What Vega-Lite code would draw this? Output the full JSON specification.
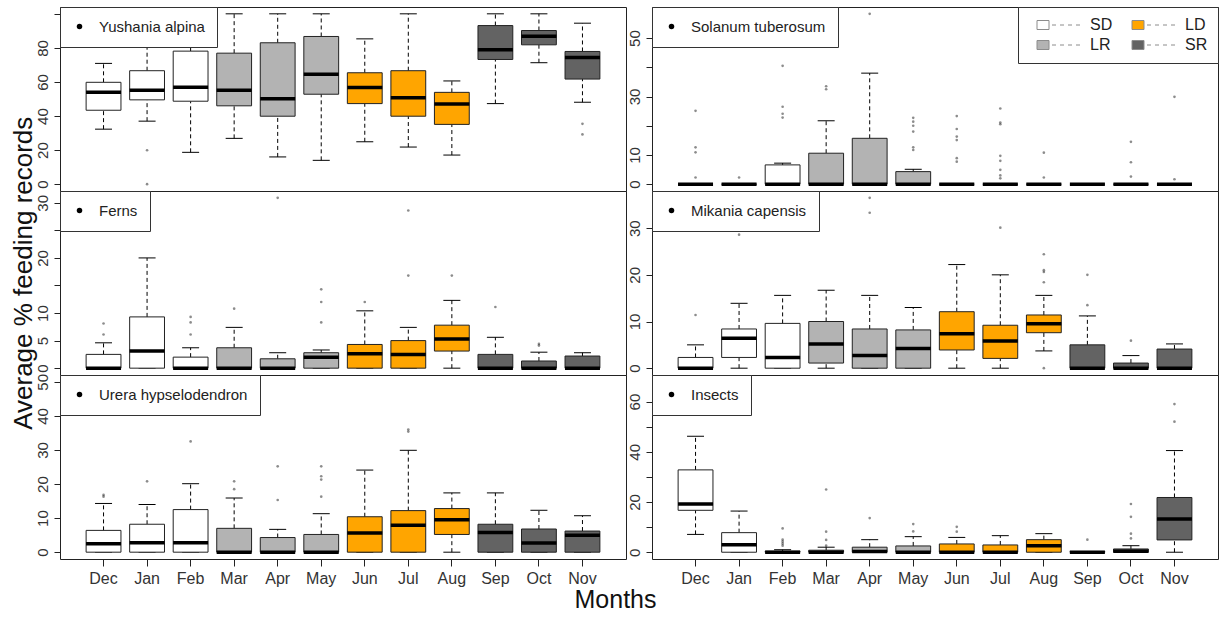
{
  "$schema": "https://vega.github.io/schema/vega-lite/v6.json",
  "background": "white",
  "padding": {"left": 10, "top": 6, "right": 0, "bottom": 0},
  "config": {
    "font": "Liberation Sans",
    "view": {"stroke": "#222", "strokeWidth": 1},
    "tick": {"opacity": 1},
    "axis": {"grid": false, "domain": false, "labelFont": "Liberation Sans", "labelColor": "#333", "tickColor": "#222", "titleFont": "Liberation Sans", "titleFontWeight": "normal", "titleColor": "#111", "labelOverlap": false, "labelFlush": false},
    "axisY": {"labelAngle": -90, "labelAlign": "center", "labelBaseline": "bottom", "labelFontSize": 15, "labelPadding": 4, "tickSize": 6, "labelOverlap": false, "tickCount": 20},
    "axisX": {"labelAngle": 0, "labelFontSize": 16, "labelPadding": 4, "tickSize": 7},
    "legend": {"labelFont": "Liberation Sans", "labelColor": "#222", "strokeColor": "#333", "fillColor": "white"}
  },
  "title": {"text": "Average % feeding records", "orient": "left", "anchor": "middle", "fontSize": 26, "fontWeight": "normal", "font": "Liberation Sans", "color": "#111", "offset": -2, "dx": 36},
  "datasets": {
    "stats": [
      {"species": "Yushania alpina", "month": "Dec", "season": "SD", "lo": 32.3, "q1": 43.4, "med": 53.9, "q3": 59.8, "hi": 70.9},
      {"species": "Yushania alpina", "month": "Jan", "season": "SD", "lo": 37.0, "q1": 49.5, "med": 55.1, "q3": 66.6, "hi": 90.0},
      {"species": "Yushania alpina", "month": "Feb", "season": "SD", "lo": 18.7, "q1": 48.7, "med": 56.9, "q3": 78.1, "hi": 100},
      {"species": "Yushania alpina", "month": "Mar", "season": "LR", "lo": 26.9, "q1": 46.0, "med": 55.1, "q3": 76.9, "hi": 100},
      {"species": "Yushania alpina", "month": "Apr", "season": "LR", "lo": 16.0, "q1": 39.9, "med": 50.2, "q3": 83.0, "hi": 100},
      {"species": "Yushania alpina", "month": "May", "season": "LR", "lo": 14.0, "q1": 52.8, "med": 64.5, "q3": 86.7, "hi": 100},
      {"species": "Yushania alpina", "month": "Jun", "season": "LD", "lo": 24.9, "q1": 47.3, "med": 56.7, "q3": 65.4, "hi": 85.3},
      {"species": "Yushania alpina", "month": "Jul", "season": "LD", "lo": 21.8, "q1": 39.9, "med": 50.8, "q3": 66.6, "hi": 100},
      {"species": "Yushania alpina", "month": "Aug", "season": "LD", "lo": 17.1, "q1": 35.1, "med": 47.1, "q3": 53.9, "hi": 60.6},
      {"species": "Yushania alpina", "month": "Sep", "season": "SR", "lo": 47.3, "q1": 73.2, "med": 78.9, "q3": 93.1, "hi": 100},
      {"species": "Yushania alpina", "month": "Oct", "season": "SR", "lo": 71.3, "q1": 81.8, "med": 86.9, "q3": 90.2, "hi": 100},
      {"species": "Yushania alpina", "month": "Nov", "season": "SR", "lo": 48.1, "q1": 61.7, "med": 74.4, "q3": 77.9, "hi": 94.5},

      {"species": "Solanum tuberosum", "month": "Dec", "season": "SD", "lo": 0, "q1": 0, "med": 0, "q3": 0, "hi": 0},
      {"species": "Solanum tuberosum", "month": "Jan", "season": "SD", "lo": 0, "q1": 0, "med": 0, "q3": 0, "hi": 0},
      {"species": "Solanum tuberosum", "month": "Feb", "season": "SD", "lo": 0, "q1": 0, "med": 0, "q3": 6.6, "hi": 7.2},
      {"species": "Solanum tuberosum", "month": "Mar", "season": "LR", "lo": 0, "q1": 0, "med": 0, "q3": 10.6, "hi": 21.7},
      {"species": "Solanum tuberosum", "month": "Apr", "season": "LR", "lo": 0, "q1": 0, "med": 0, "q3": 15.7, "hi": 38.0},
      {"species": "Solanum tuberosum", "month": "May", "season": "LR", "lo": 0, "q1": 0, "med": 0, "q3": 4.3, "hi": 5.1},
      {"species": "Solanum tuberosum", "month": "Jun", "season": "LD", "lo": 0, "q1": 0, "med": 0, "q3": 0, "hi": 0},
      {"species": "Solanum tuberosum", "month": "Jul", "season": "LD", "lo": 0, "q1": 0, "med": 0, "q3": 0, "hi": 0},
      {"species": "Solanum tuberosum", "month": "Aug", "season": "LD", "lo": 0, "q1": 0, "med": 0, "q3": 0, "hi": 0},
      {"species": "Solanum tuberosum", "month": "Sep", "season": "SR", "lo": 0, "q1": 0, "med": 0, "q3": 0, "hi": 0},
      {"species": "Solanum tuberosum", "month": "Oct", "season": "SR", "lo": 0, "q1": 0, "med": 0, "q3": 0, "hi": 0},
      {"species": "Solanum tuberosum", "month": "Nov", "season": "SR", "lo": 0, "q1": 0, "med": 0, "q3": 0, "hi": 0},

      {"species": "Ferns", "month": "Dec", "season": "SD", "lo": 0, "q1": 0, "med": 0, "q3": 2.5, "hi": 4.6},
      {"species": "Ferns", "month": "Jan", "season": "SD", "lo": 0, "q1": 0, "med": 3.1, "q3": 9.3, "hi": 20.0},
      {"species": "Ferns", "month": "Feb", "season": "SD", "lo": 0, "q1": 0, "med": 0, "q3": 2.0, "hi": 3.7},
      {"species": "Ferns", "month": "Mar", "season": "LR", "lo": 0, "q1": 0, "med": 0, "q3": 3.7, "hi": 7.4},
      {"species": "Ferns", "month": "Apr", "season": "LR", "lo": 0, "q1": 0, "med": 0, "q3": 1.7, "hi": 2.8},
      {"species": "Ferns", "month": "May", "season": "LR", "lo": 0, "q1": 0, "med": 2.0, "q3": 2.8, "hi": 3.3},
      {"species": "Ferns", "month": "Jun", "season": "LD", "lo": 0, "q1": 0, "med": 2.6, "q3": 4.3, "hi": 10.4},
      {"species": "Ferns", "month": "Jul", "season": "LD", "lo": 0, "q1": 0, "med": 2.5, "q3": 5.0, "hi": 7.4},
      {"species": "Ferns", "month": "Aug", "season": "LD", "lo": 0, "q1": 3.1, "med": 5.3, "q3": 7.8, "hi": 12.3},
      {"species": "Ferns", "month": "Sep", "season": "SR", "lo": 0, "q1": 0, "med": 0, "q3": 2.5, "hi": 5.6},
      {"species": "Ferns", "month": "Oct", "season": "SR", "lo": 0, "q1": 0, "med": 0, "q3": 1.3, "hi": 2.9},
      {"species": "Ferns", "month": "Nov", "season": "SR", "lo": 0, "q1": 0, "med": 0, "q3": 2.2, "hi": 2.8},

      {"species": "Mikania capensis", "month": "Dec", "season": "SD", "lo": 0, "q1": 0, "med": 0, "q3": 2.3, "hi": 5.0},
      {"species": "Mikania capensis", "month": "Jan", "season": "SD", "lo": 0, "q1": 2.3, "med": 6.4, "q3": 8.4, "hi": 13.9},
      {"species": "Mikania capensis", "month": "Feb", "season": "SD", "lo": 0, "q1": 0, "med": 2.3, "q3": 9.6, "hi": 15.6},
      {"species": "Mikania capensis", "month": "Mar", "season": "LR", "lo": 0, "q1": 1.1, "med": 5.2, "q3": 10.0, "hi": 16.7},
      {"species": "Mikania capensis", "month": "Apr", "season": "LR", "lo": 0, "q1": 0, "med": 2.7, "q3": 8.4, "hi": 15.6},
      {"species": "Mikania capensis", "month": "May", "season": "LR", "lo": 0, "q1": 0, "med": 4.2, "q3": 8.2, "hi": 13.0},
      {"species": "Mikania capensis", "month": "Jun", "season": "LD", "lo": 0, "q1": 3.9, "med": 7.4, "q3": 12.1, "hi": 22.2},
      {"species": "Mikania capensis", "month": "Jul", "season": "LD", "lo": 0, "q1": 2.1, "med": 5.8, "q3": 9.2, "hi": 20.0},
      {"species": "Mikania capensis", "month": "Aug", "season": "LD", "lo": 3.7, "q1": 7.6, "med": 9.5, "q3": 11.4, "hi": 15.6},
      {"species": "Mikania capensis", "month": "Sep", "season": "SR", "lo": 0, "q1": 0, "med": 0, "q3": 5.0, "hi": 11.2},
      {"species": "Mikania capensis", "month": "Oct", "season": "SR", "lo": 0, "q1": 0, "med": 0, "q3": 1.1, "hi": 2.7},
      {"species": "Mikania capensis", "month": "Nov", "season": "SR", "lo": 0, "q1": 0, "med": 0, "q3": 4.1, "hi": 5.2},

      {"species": "Urera hypselodendron", "month": "Dec", "season": "SD", "lo": 0, "q1": 0, "med": 2.5, "q3": 6.4, "hi": 14.3},
      {"species": "Urera hypselodendron", "month": "Jan", "season": "SD", "lo": 0, "q1": 0, "med": 2.8, "q3": 8.2, "hi": 14.0},
      {"species": "Urera hypselodendron", "month": "Feb", "season": "SD", "lo": 0, "q1": 0, "med": 2.8, "q3": 12.5, "hi": 20.1},
      {"species": "Urera hypselodendron", "month": "Mar", "season": "LR", "lo": 0, "q1": 0, "med": 0, "q3": 7.0, "hi": 15.9},
      {"species": "Urera hypselodendron", "month": "Apr", "season": "LR", "lo": 0, "q1": 0, "med": 0, "q3": 4.3, "hi": 6.7},
      {"species": "Urera hypselodendron", "month": "May", "season": "LR", "lo": 0, "q1": 0, "med": 0, "q3": 5.2, "hi": 11.3},
      {"species": "Urera hypselodendron", "month": "Jun", "season": "LD", "lo": 0, "q1": 0, "med": 5.6, "q3": 10.4, "hi": 24.1},
      {"species": "Urera hypselodendron", "month": "Jul", "season": "LD", "lo": 0, "q1": 0, "med": 7.9, "q3": 12.2, "hi": 29.9},
      {"species": "Urera hypselodendron", "month": "Aug", "season": "LD", "lo": 0, "q1": 5.2, "med": 9.5, "q3": 12.8, "hi": 17.4},
      {"species": "Urera hypselodendron", "month": "Sep", "season": "SR", "lo": 0, "q1": 0, "med": 5.8, "q3": 8.2, "hi": 17.4},
      {"species": "Urera hypselodendron", "month": "Oct", "season": "SR", "lo": 0, "q1": 0, "med": 2.7, "q3": 6.8, "hi": 12.3},
      {"species": "Urera hypselodendron", "month": "Nov", "season": "SR", "lo": 0, "q1": 0, "med": 5.0, "q3": 6.2, "hi": 10.7},

      {"species": "Insects", "month": "Dec", "season": "SD", "lo": 7.1, "q1": 16.7, "med": 19.2, "q3": 32.8, "hi": 46.2},
      {"species": "Insects", "month": "Jan", "season": "SD", "lo": 0, "q1": 0, "med": 3.0, "q3": 7.8, "hi": 16.4},
      {"species": "Insects", "month": "Feb", "season": "SD", "lo": 0, "q1": 0, "med": 0, "q3": 0.4, "hi": 1.0},
      {"species": "Insects", "month": "Mar", "season": "LR", "lo": 0, "q1": 0, "med": 0, "q3": 0.8, "hi": 2.0},
      {"species": "Insects", "month": "Apr", "season": "LR", "lo": 0, "q1": 0, "med": 0.3, "q3": 2.0, "hi": 5.0},
      {"species": "Insects", "month": "May", "season": "LR", "lo": 0, "q1": 0, "med": 0, "q3": 2.5, "hi": 6.2},
      {"species": "Insects", "month": "Jun", "season": "LD", "lo": 0, "q1": 0, "med": 0, "q3": 3.3, "hi": 5.9},
      {"species": "Insects", "month": "Jul", "season": "LD", "lo": 0, "q1": 0, "med": 0, "q3": 2.9, "hi": 6.6},
      {"species": "Insects", "month": "Aug", "season": "LD", "lo": 0, "q1": 0, "med": 2.6, "q3": 5.0, "hi": 7.4},
      {"species": "Insects", "month": "Sep", "season": "SR", "lo": 0, "q1": 0, "med": 0, "q3": 0.3, "hi": 0.3},
      {"species": "Insects", "month": "Oct", "season": "SR", "lo": 0, "q1": 0, "med": 0.4, "q3": 1.3, "hi": 2.6},
      {"species": "Insects", "month": "Nov", "season": "SR", "lo": 0, "q1": 4.9, "med": 13.2, "q3": 21.8, "hi": 40.5}
    ],
    "outliers": [
      {"species": "Yushania alpina", "month": "Jan", "value": 19.9},
      {"species": "Yushania alpina", "month": "Jan", "value": 0},
      {"species": "Yushania alpina", "month": "Nov", "value": 35.4},
      {"species": "Yushania alpina", "month": "Nov", "value": 29.2},

      {"species": "Solanum tuberosum", "month": "Dec", "value": 25.1},
      {"species": "Solanum tuberosum", "month": "Dec", "value": 12.6},
      {"species": "Solanum tuberosum", "month": "Dec", "value": 10.9},
      {"species": "Solanum tuberosum", "month": "Dec", "value": 2.3},
      {"species": "Solanum tuberosum", "month": "Jan", "value": 2.3},
      {"species": "Solanum tuberosum", "month": "Feb", "value": 40.5},
      {"species": "Solanum tuberosum", "month": "Feb", "value": 26.5},
      {"species": "Solanum tuberosum", "month": "Feb", "value": 24.1},
      {"species": "Solanum tuberosum", "month": "Feb", "value": 22.8},
      {"species": "Solanum tuberosum", "month": "Mar", "value": 33.5},
      {"species": "Solanum tuberosum", "month": "Mar", "value": 32.5},
      {"species": "Solanum tuberosum", "month": "Apr", "value": 58.3},
      {"species": "Solanum tuberosum", "month": "May", "value": 22.7},
      {"species": "Solanum tuberosum", "month": "May", "value": 21.4},
      {"species": "Solanum tuberosum", "month": "May", "value": 20.0},
      {"species": "Solanum tuberosum", "month": "May", "value": 18.0},
      {"species": "Solanum tuberosum", "month": "May", "value": 12.6},
      {"species": "Solanum tuberosum", "month": "May", "value": 11.7},
      {"species": "Solanum tuberosum", "month": "Jun", "value": 23.3},
      {"species": "Solanum tuberosum", "month": "Jun", "value": 18.9},
      {"species": "Solanum tuberosum", "month": "Jun", "value": 16.3},
      {"species": "Solanum tuberosum", "month": "Jun", "value": 15.1},
      {"species": "Solanum tuberosum", "month": "Jun", "value": 8.9},
      {"species": "Solanum tuberosum", "month": "Jun", "value": 7.7},
      {"species": "Solanum tuberosum", "month": "Jul", "value": 25.9},
      {"species": "Solanum tuberosum", "month": "Jul", "value": 21.1},
      {"species": "Solanum tuberosum", "month": "Jul", "value": 20.5},
      {"species": "Solanum tuberosum", "month": "Jul", "value": 9.7},
      {"species": "Solanum tuberosum", "month": "Jul", "value": 8.0},
      {"species": "Solanum tuberosum", "month": "Jul", "value": 4.9},
      {"species": "Solanum tuberosum", "month": "Jul", "value": 3.0},
      {"species": "Solanum tuberosum", "month": "Jul", "value": 2.0},
      {"species": "Solanum tuberosum", "month": "Aug", "value": 10.8},
      {"species": "Solanum tuberosum", "month": "Aug", "value": 2.3},
      {"species": "Solanum tuberosum", "month": "Oct", "value": 14.5},
      {"species": "Solanum tuberosum", "month": "Oct", "value": 7.5},
      {"species": "Solanum tuberosum", "month": "Oct", "value": 2.6},
      {"species": "Solanum tuberosum", "month": "Nov", "value": 29.9},
      {"species": "Solanum tuberosum", "month": "Nov", "value": 1.7},

      {"species": "Ferns", "month": "Dec", "value": 6.1},
      {"species": "Ferns", "month": "Dec", "value": 8.1},
      {"species": "Ferns", "month": "Feb", "value": 6.1},
      {"species": "Ferns", "month": "Feb", "value": 8.3},
      {"species": "Ferns", "month": "Feb", "value": 9.3},
      {"species": "Ferns", "month": "Mar", "value": 10.8},
      {"species": "Ferns", "month": "Apr", "value": 30.9},
      {"species": "Ferns", "month": "May", "value": 8.3},
      {"species": "Ferns", "month": "May", "value": 12.0},
      {"species": "Ferns", "month": "May", "value": 14.3},
      {"species": "Ferns", "month": "Jun", "value": 12.0},
      {"species": "Ferns", "month": "Jul", "value": 16.8},
      {"species": "Ferns", "month": "Jul", "value": 28.6},
      {"species": "Ferns", "month": "Aug", "value": 16.8},
      {"species": "Ferns", "month": "Sep", "value": 11.1},
      {"species": "Ferns", "month": "Oct", "value": 4.4},
      {"species": "Ferns", "month": "Oct", "value": 4.1},

      {"species": "Mikania capensis", "month": "Dec", "value": 11.4},
      {"species": "Mikania capensis", "month": "Jan", "value": 28.6},
      {"species": "Mikania capensis", "month": "Apr", "value": 36.5},
      {"species": "Mikania capensis", "month": "Apr", "value": 33.3},
      {"species": "Mikania capensis", "month": "Jul", "value": 30.1},
      {"species": "Mikania capensis", "month": "Aug", "value": 0},
      {"species": "Mikania capensis", "month": "Aug", "value": 18.4},
      {"species": "Mikania capensis", "month": "Aug", "value": 20.6},
      {"species": "Mikania capensis", "month": "Aug", "value": 21.0},
      {"species": "Mikania capensis", "month": "Aug", "value": 24.4},
      {"species": "Mikania capensis", "month": "Sep", "value": 13.5},
      {"species": "Mikania capensis", "month": "Sep", "value": 20.0},
      {"species": "Mikania capensis", "month": "Oct", "value": 5.9},

      {"species": "Urera hypselodendron", "month": "Dec", "value": 16.3},
      {"species": "Urera hypselodendron", "month": "Dec", "value": 16.8},
      {"species": "Urera hypselodendron", "month": "Jan", "value": 20.8},
      {"species": "Urera hypselodendron", "month": "Feb", "value": 32.5},
      {"species": "Urera hypselodendron", "month": "Mar", "value": 18.5},
      {"species": "Urera hypselodendron", "month": "Mar", "value": 20.8},
      {"species": "Urera hypselodendron", "month": "Apr", "value": 15.3},
      {"species": "Urera hypselodendron", "month": "Apr", "value": 25.2},
      {"species": "Urera hypselodendron", "month": "May", "value": 16.3},
      {"species": "Urera hypselodendron", "month": "May", "value": 21.3},
      {"species": "Urera hypselodendron", "month": "May", "value": 22.3},
      {"species": "Urera hypselodendron", "month": "May", "value": 25.2},
      {"species": "Urera hypselodendron", "month": "Jul", "value": 35.4},
      {"species": "Urera hypselodendron", "month": "Jul", "value": 36.0},

      {"species": "Insects", "month": "Feb", "value": 9.5},
      {"species": "Insects", "month": "Feb", "value": 5.0},
      {"species": "Insects", "month": "Feb", "value": 4.2},
      {"species": "Insects", "month": "Feb", "value": 3.4},
      {"species": "Insects", "month": "Feb", "value": 2.6},
      {"species": "Insects", "month": "Mar", "value": 25.0},
      {"species": "Insects", "month": "Mar", "value": 8.2},
      {"species": "Insects", "month": "Mar", "value": 4.9},
      {"species": "Insects", "month": "Mar", "value": 2.6},
      {"species": "Insects", "month": "Apr", "value": 13.6},
      {"species": "Insects", "month": "May", "value": 11.2},
      {"species": "Insects", "month": "May", "value": 8.3},
      {"species": "Insects", "month": "Jun", "value": 10.1},
      {"species": "Insects", "month": "Jun", "value": 8.2},
      {"species": "Insects", "month": "Sep", "value": 5.0},
      {"species": "Insects", "month": "Oct", "value": 5.5},
      {"species": "Insects", "month": "Oct", "value": 7.4},
      {"species": "Insects", "month": "Oct", "value": 14.1},
      {"species": "Insects", "month": "Oct", "value": 19.2},
      {"species": "Insects", "month": "Nov", "value": 52.0},
      {"species": "Insects", "month": "Nov", "value": 59.0}
    ]
  },
  "columns": 2,
  "spacing": {"row": 0, "column": 26},
  "bounds": "flush",
  "resolve": {"scale": {"fill": "independent", "shape": "independent"}},
  "concat": [
    {
      "width": 566, "height": 184,
      "encoding": {"x": {"field": "month", "type": "ordinal", "scale": {"type": "band", "domain": ["Dec","Jan","Feb","Mar","Apr","May","Jun","Jul","Aug","Sep","Oct","Nov"], "paddingInner": 0.2, "paddingOuter": 0.6}, "axis": null}},
      "layer": [
        {
          "data": {"name": "stats"},
          "transform": [{"filter": "datum.species === 'Yushania alpina'"}],
          "layer": [
            {"mark": {"type": "rule", "color": "black", "strokeDash": [4, 3]}, "encoding": {"y": {"field": "lo", "type": "quantitative", "title": null, "scale": {"domain": [-4, 104], "nice": false, "zero": false}, "axis": {"title": null, "labelOverlap": false, "tickCount": 20, "values": [0, 20, 40, 60, 80, 100], "labelExpr": "datum.value == 100 ? '' : datum.label"}}, "y2": {"field": "q1"}}},
            {"mark": {"type": "rule", "color": "black", "strokeDash": [4, 3]}, "encoding": {"y": {"field": "q3", "type": "quantitative", "title": null}, "y2": {"field": "hi"}}},
            {"mark": {"type": "tick", "color": "black", "size": 17, "thickness": 1, "opacity": 1}, "encoding": {"y": {"field": "lo", "type": "quantitative", "title": null}}},
            {"mark": {"type": "tick", "color": "black", "size": 17, "thickness": 1, "opacity": 1}, "encoding": {"y": {"field": "hi", "type": "quantitative", "title": null}}},
            {"mark": {"type": "bar"}, "encoding": {"y": {"field": "q1", "type": "quantitative", "title": null}, "y2": {"field": "q3"}, "fill": {"field": "season", "type": "nominal", "scale": {"domain": ["SD","LR","LD","SR"], "range": ["#ffffff","#b3b3b3","#ffa500","#636363"]}, "legend": null}}},
            {"mark": {"type": "bar", "filled": false, "color": "#222", "strokeWidth": 1}, "encoding": {"y": {"field": "q1", "type": "quantitative", "title": null}, "y2": {"field": "q3"}}},
            {"mark": {"type": "tick", "color": "black", "size": 35, "thickness": 3.5, "opacity": 1}, "encoding": {"y": {"field": "med", "type": "quantitative", "title": null}}}
          ]
        },
        {
          "data": {"name": "outliers"},
          "transform": [{"filter": "datum.species === 'Yushania alpina'"}],
          "mark": {"type": "point", "filled": true, "color": "black", "opacity": 0.45, "size": 7},
          "encoding": {"y": {"field": "value", "type": "quantitative", "title": null},
            "shape": {"field": "species", "type": "nominal", "scale": {"range": ["circle"]},
              "legend": {"title": null, "orient": "top-left", "offset": 0, "padding": 12, "labelFontSize": 15, "labelOffset": 12, "symbolSize": 30, "symbolType": "circle", "symbolOpacity": 1}}}
        }
      ]
    },
    {
      "width": 566, "height": 184,
      "encoding": {"x": {"field": "month", "type": "ordinal", "scale": {"type": "band", "domain": ["Dec","Jan","Feb","Mar","Apr","May","Jun","Jul","Aug","Sep","Oct","Nov"], "paddingInner": 0.2, "paddingOuter": 0.6}, "axis": null}},
      "layer": [
        {
          "data": {"name": "stats"},
          "transform": [{"filter": "datum.species === 'Solanum tuberosum'"}],
          "layer": [
            {"mark": {"type": "rule", "color": "black", "strokeDash": [4, 3]}, "encoding": {"y": {"field": "lo", "type": "quantitative", "title": null, "scale": {"domain": [-2.33, 60.63], "nice": false, "zero": false}, "axis": {"title": null, "labelOverlap": false, "tickCount": 20, "values": [0, 10, 20, 30, 40, 50], "labelExpr": "datum.value == 20 || datum.value == 40 ? '' : datum.label"}}, "y2": {"field": "q1"}}},
            {"mark": {"type": "rule", "color": "black", "strokeDash": [4, 3]}, "encoding": {"y": {"field": "q3", "type": "quantitative", "title": null}, "y2": {"field": "hi"}}},
            {"mark": {"type": "tick", "color": "black", "size": 17, "thickness": 1, "opacity": 1}, "encoding": {"y": {"field": "lo", "type": "quantitative", "title": null}}},
            {"mark": {"type": "tick", "color": "black", "size": 17, "thickness": 1, "opacity": 1}, "encoding": {"y": {"field": "hi", "type": "quantitative", "title": null}}},
            {"mark": {"type": "bar"}, "encoding": {"y": {"field": "q1", "type": "quantitative", "title": null}, "y2": {"field": "q3"},
              "fill": {"field": "season", "type": "nominal", "scale": {"domain": ["SD","LR","LD","SR"], "range": ["#ffffff","#b3b3b3","#ffa500","#636363"]},
                "legend": {"title": null, "orient": "top-right", "offset": 0, "columns": 2, "padding": 10, "columnPadding": 10, "rowPadding": 4, "labelFontSize": 16, "labelOffset": 46, "symbolSize": 100,
                  "symbolType": "M0.2,-0.9H2.6V0.9H0.2Z M3.2,0H4 M4.8,0H5.6 M6.4,0H7.2 M8,0H8.8", "symbolStrokeColor": "#8c8c8c", "symbolStrokeWidth": 1}}}},
            {"mark": {"type": "bar", "filled": false, "color": "#222", "strokeWidth": 1}, "encoding": {"y": {"field": "q1", "type": "quantitative", "title": null}, "y2": {"field": "q3"}}},
            {"mark": {"type": "tick", "color": "black", "size": 35, "thickness": 3.5, "opacity": 1}, "encoding": {"y": {"field": "med", "type": "quantitative", "title": null}}}
          ]
        },
        {
          "data": {"name": "outliers"},
          "transform": [{"filter": "datum.species === 'Solanum tuberosum'"}],
          "mark": {"type": "point", "filled": true, "color": "black", "opacity": 0.45, "size": 7},
          "encoding": {"y": {"field": "value", "type": "quantitative", "title": null},
            "shape": {"field": "species", "type": "nominal", "scale": {"range": ["circle"]},
              "legend": {"title": null, "orient": "top-left", "offset": 0, "padding": 12, "labelFontSize": 15, "labelOffset": 12, "symbolSize": 30, "symbolType": "circle", "symbolOpacity": 1}}}
        }
      ]
    },
    {
      "width": 566, "height": 184,
      "encoding": {"x": {"field": "month", "type": "ordinal", "scale": {"type": "band", "domain": ["Dec","Jan","Feb","Mar","Apr","May","Jun","Jul","Aug","Sep","Oct","Nov"], "paddingInner": 0.2, "paddingOuter": 0.6}, "axis": null}},
      "layer": [
        {
          "data": {"name": "stats"},
          "transform": [{"filter": "datum.species === 'Ferns'"}],
          "layer": [
            {"mark": {"type": "rule", "color": "black", "strokeDash": [4, 3]}, "encoding": {"y": {"field": "lo", "type": "quantitative", "title": null, "scale": {"domain": [-1.24, 32.14], "nice": false, "zero": false}, "axis": {"title": null, "labelOverlap": false, "tickCount": 20, "values": [0, 5, 10, 15, 20, 25, 30], "labelExpr": "datum.value == 15 || datum.value == 25 ? '' : datum.label"}}, "y2": {"field": "q1"}}},
            {"mark": {"type": "rule", "color": "black", "strokeDash": [4, 3]}, "encoding": {"y": {"field": "q3", "type": "quantitative", "title": null}, "y2": {"field": "hi"}}},
            {"mark": {"type": "tick", "color": "black", "size": 17, "thickness": 1, "opacity": 1}, "encoding": {"y": {"field": "lo", "type": "quantitative", "title": null}}},
            {"mark": {"type": "tick", "color": "black", "size": 17, "thickness": 1, "opacity": 1}, "encoding": {"y": {"field": "hi", "type": "quantitative", "title": null}}},
            {"mark": {"type": "bar"}, "encoding": {"y": {"field": "q1", "type": "quantitative", "title": null}, "y2": {"field": "q3"}, "fill": {"field": "season", "type": "nominal", "scale": {"domain": ["SD","LR","LD","SR"], "range": ["#ffffff","#b3b3b3","#ffa500","#636363"]}, "legend": null}}},
            {"mark": {"type": "bar", "filled": false, "color": "#222", "strokeWidth": 1}, "encoding": {"y": {"field": "q1", "type": "quantitative", "title": null}, "y2": {"field": "q3"}}},
            {"mark": {"type": "tick", "color": "black", "size": 35, "thickness": 3.5, "opacity": 1}, "encoding": {"y": {"field": "med", "type": "quantitative", "title": null}}}
          ]
        },
        {
          "data": {"name": "outliers"},
          "transform": [{"filter": "datum.species === 'Ferns'"}],
          "mark": {"type": "point", "filled": true, "color": "black", "opacity": 0.45, "size": 7},
          "encoding": {"y": {"field": "value", "type": "quantitative", "title": null},
            "shape": {"field": "species", "type": "nominal", "scale": {"range": ["circle"]},
              "legend": {"title": null, "orient": "top-left", "offset": 0, "padding": 12, "labelFontSize": 15, "labelOffset": 12, "symbolSize": 30, "symbolType": "circle", "symbolOpacity": 1}}}
        }
      ]
    },
    {
      "width": 566, "height": 184,
      "encoding": {"x": {"field": "month", "type": "ordinal", "scale": {"type": "band", "domain": ["Dec","Jan","Feb","Mar","Apr","May","Jun","Jul","Aug","Sep","Oct","Nov"], "paddingInner": 0.2, "paddingOuter": 0.6}, "axis": null}},
      "layer": [
        {
          "data": {"name": "stats"},
          "transform": [{"filter": "datum.species === 'Mikania capensis'"}],
          "layer": [
            {"mark": {"type": "rule", "color": "black", "strokeDash": [4, 3]}, "encoding": {"y": {"field": "lo", "type": "quantitative", "title": null, "scale": {"domain": [-1.46, 37.96], "nice": false, "zero": false}, "axis": {"title": null, "labelOverlap": false, "tickCount": 20, "values": [0, 10, 20, 30]}}, "y2": {"field": "q1"}}},
            {"mark": {"type": "rule", "color": "black", "strokeDash": [4, 3]}, "encoding": {"y": {"field": "q3", "type": "quantitative", "title": null}, "y2": {"field": "hi"}}},
            {"mark": {"type": "tick", "color": "black", "size": 17, "thickness": 1, "opacity": 1}, "encoding": {"y": {"field": "lo", "type": "quantitative", "title": null}}},
            {"mark": {"type": "tick", "color": "black", "size": 17, "thickness": 1, "opacity": 1}, "encoding": {"y": {"field": "hi", "type": "quantitative", "title": null}}},
            {"mark": {"type": "bar"}, "encoding": {"y": {"field": "q1", "type": "quantitative", "title": null}, "y2": {"field": "q3"}, "fill": {"field": "season", "type": "nominal", "scale": {"domain": ["SD","LR","LD","SR"], "range": ["#ffffff","#b3b3b3","#ffa500","#636363"]}, "legend": null}}},
            {"mark": {"type": "bar", "filled": false, "color": "#222", "strokeWidth": 1}, "encoding": {"y": {"field": "q1", "type": "quantitative", "title": null}, "y2": {"field": "q3"}}},
            {"mark": {"type": "tick", "color": "black", "size": 35, "thickness": 3.5, "opacity": 1}, "encoding": {"y": {"field": "med", "type": "quantitative", "title": null}}}
          ]
        },
        {
          "data": {"name": "outliers"},
          "transform": [{"filter": "datum.species === 'Mikania capensis'"}],
          "mark": {"type": "point", "filled": true, "color": "black", "opacity": 0.45, "size": 7},
          "encoding": {"y": {"field": "value", "type": "quantitative", "title": null},
            "shape": {"field": "species", "type": "nominal", "scale": {"range": ["circle"]},
              "legend": {"title": null, "orient": "top-left", "offset": 0, "padding": 12, "labelFontSize": 15, "labelOffset": 12, "symbolSize": 30, "symbolType": "circle", "symbolOpacity": 1}}}
        }
      ]
    },
    {
      "width": 566, "height": 184,
      "encoding": {"x": {"field": "month", "type": "ordinal", "scale": {"type": "band", "domain": ["Dec","Jan","Feb","Mar","Apr","May","Jun","Jul","Aug","Sep","Oct","Nov"], "paddingInner": 0.2, "paddingOuter": 0.6}, "axis": {"title": "Months", "titleFontSize": 25, "titleX": 555, "titlePadding": 1}}},
      "layer": [
        {
          "data": {"name": "stats"},
          "transform": [{"filter": "datum.species === 'Urera hypselodendron'"}],
          "layer": [
            {"mark": {"type": "rule", "color": "black", "strokeDash": [4, 3]}, "encoding": {"y": {"field": "lo", "type": "quantitative", "title": null, "scale": {"domain": [-2, 52], "nice": false, "zero": false}, "axis": {"title": null, "labelOverlap": false, "tickCount": 20, "values": [0, 10, 20, 30, 40, 50]}}, "y2": {"field": "q1"}}},
            {"mark": {"type": "rule", "color": "black", "strokeDash": [4, 3]}, "encoding": {"y": {"field": "q3", "type": "quantitative", "title": null}, "y2": {"field": "hi"}}},
            {"mark": {"type": "tick", "color": "black", "size": 17, "thickness": 1, "opacity": 1}, "encoding": {"y": {"field": "lo", "type": "quantitative", "title": null}}},
            {"mark": {"type": "tick", "color": "black", "size": 17, "thickness": 1, "opacity": 1}, "encoding": {"y": {"field": "hi", "type": "quantitative", "title": null}}},
            {"mark": {"type": "bar"}, "encoding": {"y": {"field": "q1", "type": "quantitative", "title": null}, "y2": {"field": "q3"}, "fill": {"field": "season", "type": "nominal", "scale": {"domain": ["SD","LR","LD","SR"], "range": ["#ffffff","#b3b3b3","#ffa500","#636363"]}, "legend": null}}},
            {"mark": {"type": "bar", "filled": false, "color": "#222", "strokeWidth": 1}, "encoding": {"y": {"field": "q1", "type": "quantitative", "title": null}, "y2": {"field": "q3"}}},
            {"mark": {"type": "tick", "color": "black", "size": 35, "thickness": 3.5, "opacity": 1}, "encoding": {"y": {"field": "med", "type": "quantitative", "title": null}}}
          ]
        },
        {
          "data": {"name": "outliers"},
          "transform": [{"filter": "datum.species === 'Urera hypselodendron'"}],
          "mark": {"type": "point", "filled": true, "color": "black", "opacity": 0.45, "size": 7},
          "encoding": {"y": {"field": "value", "type": "quantitative", "title": null},
            "shape": {"field": "species", "type": "nominal", "scale": {"range": ["circle"]},
              "legend": {"title": null, "orient": "top-left", "offset": 0, "padding": 12, "labelFontSize": 15, "labelOffset": 12, "symbolSize": 30, "symbolType": "circle", "symbolOpacity": 1}}}
        }
      ]
    },
    {
      "width": 566, "height": 184,
      "encoding": {"x": {"field": "month", "type": "ordinal", "scale": {"type": "band", "domain": ["Dec","Jan","Feb","Mar","Apr","May","Jun","Jul","Aug","Sep","Oct","Nov"], "paddingInner": 0.2, "paddingOuter": 0.6}, "axis": {"title": null}}},
      "layer": [
        {
          "data": {"name": "stats"},
          "transform": [{"filter": "datum.species === 'Insects'"}],
          "layer": [
            {"mark": {"type": "rule", "color": "black", "strokeDash": [4, 3]}, "encoding": {"y": {"field": "lo", "type": "quantitative", "title": null, "scale": {"domain": [-2.7, 70.6], "nice": false, "zero": false}, "axis": {"title": null, "labelOverlap": false, "tickCount": 20, "values": [0, 10, 20, 30, 40, 50, 60], "labelExpr": "datum.value == 10 || datum.value == 30 || datum.value == 50 ? '' : datum.label"}}, "y2": {"field": "q1"}}},
            {"mark": {"type": "rule", "color": "black", "strokeDash": [4, 3]}, "encoding": {"y": {"field": "q3", "type": "quantitative", "title": null}, "y2": {"field": "hi"}}},
            {"mark": {"type": "tick", "color": "black", "size": 17, "thickness": 1, "opacity": 1}, "encoding": {"y": {"field": "lo", "type": "quantitative", "title": null}}},
            {"mark": {"type": "tick", "color": "black", "size": 17, "thickness": 1, "opacity": 1}, "encoding": {"y": {"field": "hi", "type": "quantitative", "title": null}}},
            {"mark": {"type": "bar"}, "encoding": {"y": {"field": "q1", "type": "quantitative", "title": null}, "y2": {"field": "q3"}, "fill": {"field": "season", "type": "nominal", "scale": {"domain": ["SD","LR","LD","SR"], "range": ["#ffffff","#b3b3b3","#ffa500","#636363"]}, "legend": null}}},
            {"mark": {"type": "bar", "filled": false, "color": "#222", "strokeWidth": 1}, "encoding": {"y": {"field": "q1", "type": "quantitative", "title": null}, "y2": {"field": "q3"}}},
            {"mark": {"type": "tick", "color": "black", "size": 35, "thickness": 3.5, "opacity": 1}, "encoding": {"y": {"field": "med", "type": "quantitative", "title": null}}}
          ]
        },
        {
          "data": {"name": "outliers"},
          "transform": [{"filter": "datum.species === 'Insects'"}],
          "mark": {"type": "point", "filled": true, "color": "black", "opacity": 0.45, "size": 7},
          "encoding": {"y": {"field": "value", "type": "quantitative", "title": null},
            "shape": {"field": "species", "type": "nominal", "scale": {"range": ["circle"]},
              "legend": {"title": null, "orient": "top-left", "offset": 0, "padding": 12, "labelFontSize": 15, "labelOffset": 12, "symbolSize": 30, "symbolType": "circle", "symbolOpacity": 1}}}
        }
      ]
    }
  ]
}
